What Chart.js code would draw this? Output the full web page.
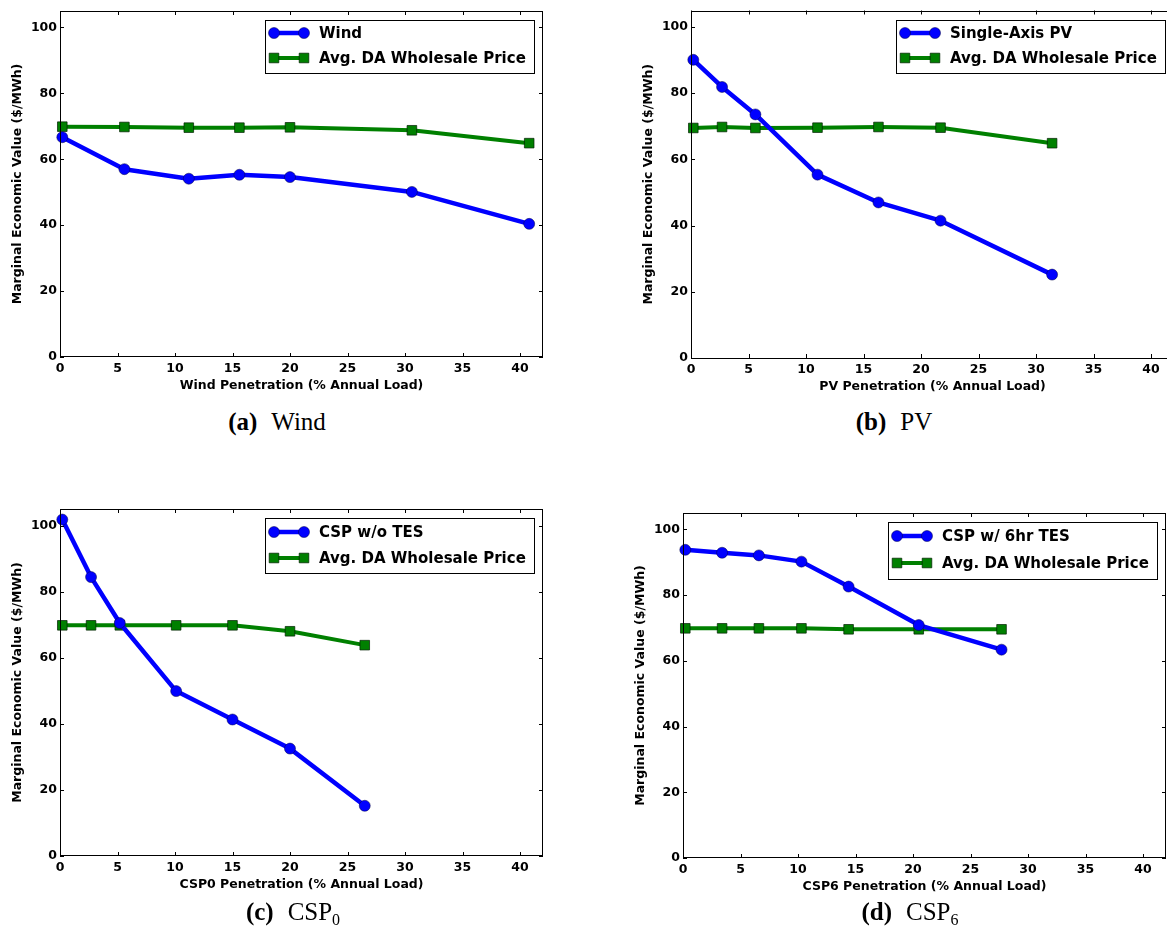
<!DOCTYPE html>
<html>
<head>
<meta charset="utf-8">
<script src="https://cdn.jsdelivr.net/npm/chart.js@4.4.0/dist/chart.umd.min.js"></script>
<style>
body { margin: 0; background: #fff; width: 1167px; height: 937px; overflow: hidden; position: relative; }
canvas { position: absolute; }
.cap { position: absolute; font-family: 'Liberation Serif', serif; font-size: 25px; transform: translate(-50%, -50%); white-space: nowrap; color: #000; }
.cap b { font-weight: bold; margin-right: 14px; }
.cap sub { font-size: 16px; vertical-align: -5px; }
</style>
</head>
<body>
<canvas id="chartA"></canvas>
<canvas id="chartB"></canvas>
<canvas id="chartC"></canvas>
<canvas id="chartD"></canvas>
<div class="cap" style="left:277px;top:422px"><b>(a)</b>Wind</div>
<div class="cap" style="left:894px;top:422px"><b>(b)</b>PV</div>
<div class="cap" style="left:293px;top:913px"><b>(c)</b>CSP<sub>0</sub></div>
<div class="cap" style="left:910px;top:913px"><b>(d)</b>CSP<sub>6</sub></div>
<script>
// penetration (% annual load) and marginal value ($/MWh)
const windPen = [0.2, 5.6, 11.2, 15.6, 20.0, 30.6, 40.8];
const windValue = [66.7, 57.0, 54.1, 55.3, 54.6, 50.1, 40.4];
const windPrice = [69.9, 69.8, 69.6, 69.6, 69.7, 68.8, 64.9];

const pvPen = [0.2, 2.7, 5.6, 11.0, 16.3, 21.7, 31.4];
const pvValue = [90.1, 81.9, 73.6, 55.4, 47.0, 41.5, 25.2];
const pvPrice = [69.5, 69.8, 69.5, 69.6, 69.8, 69.6, 64.9];

const csp0Pen = [0.2, 2.7, 5.2, 10.1, 15.0, 20.0, 26.5];
const csp0Value = [101.8, 84.4, 70.5, 49.9, 41.3, 32.5, 15.2];
const csp0Price = [69.8, 69.8, 69.8, 69.8, 69.8, 68.0, 63.8];

const csp6Pen = [0.2, 3.4, 6.6, 10.3, 14.4, 20.5, 27.7];
const csp6Value = [93.8, 92.9, 92.1, 90.2, 82.6, 70.9, 63.4];
const csp6Price = [69.9, 69.9, 69.9, 69.9, 69.6, 69.6, 69.6];

const priceLabel = 'Avg. DA Wholesale Price';
const yTitle = 'Marginal Economic Value ($/MWh)';

Chart.defaults.font.family = "'DejaVu Sans', sans-serif";
Chart.defaults.color = '#000';

// matplotlib style box with inward ticks on all four sides
const axesFrame = {
    id: 'axesFrame',
    afterDatasetsDraw(chart) {
        const { ctx, chartArea: a, scales: { x, y } } = chart;
        ctx.save();
        ctx.strokeStyle = '#000';
        ctx.lineWidth = 1;
        ctx.beginPath();
        x.ticks.forEach(t => {
            const px = Math.round(x.getPixelForValue(t.value)) + 0.5;
            ctx.moveTo(px, a.bottom); ctx.lineTo(px, a.bottom - 4);
            ctx.moveTo(px, a.top); ctx.lineTo(px, a.top + 4);
        });
        y.ticks.forEach(t => {
            const py = Math.round(y.getPixelForValue(t.value)) + 0.5;
            ctx.moveTo(a.left, py); ctx.lineTo(a.left + 4, py);
            ctx.moveTo(a.right, py); ctx.lineTo(a.right - 4, py);
        });
        ctx.stroke();
        ctx.strokeRect(Math.round(a.left) + 0.5, Math.round(a.top) + 0.5, Math.round(a.width) - 1, Math.round(a.height) - 1);
        ctx.restore();
    }
};

function drawMarker(ctx, d, px, py) {
    ctx.fillStyle = d.pointBackgroundColor;
    ctx.strokeStyle = d.pointBorderColor;
    ctx.lineWidth = d.pointBorderWidth;
    ctx.beginPath();
    if (d.pointStyle === 'rect') {
        const s = d.pointRadius * Math.SQRT1_2;
        ctx.rect(px - s, py - s, 2 * s, 2 * s);
    } else {
        ctx.arc(px, py, d.pointRadius, 0, Math.PI * 2);
    }
    ctx.fill();
    ctx.stroke();
}

// legend box in the upper right corner of the axes
const boxLegend = {
    id: 'boxLegend',
    afterDraw(chart) {
        const { ctx, chartArea: a } = chart;
        const sets = chart.data.datasets;
        const h = chart.options.legendBoxHeight;
        ctx.save();
        ctx.font = "bold 15px 'DejaVu Sans'";
        const textW = Math.max(...sets.map(d => ctx.measureText(d.label).width));
        const w = Math.round(54 + textW + 8);
        const bx = Math.round(a.right - 9 - w), by = Math.round(a.top + 9);
        ctx.fillStyle = '#fff';
        ctx.fillRect(bx, by, w, h);
        ctx.strokeStyle = '#000';
        ctx.lineWidth = 1;
        ctx.strokeRect(bx + 0.5, by + 0.5, w, h);
        sets.forEach((d, i) => {
            const cy = by + Math.round(h * 0.25) + i * Math.round(h * 0.47);
            ctx.strokeStyle = d.borderColor;
            ctx.lineWidth = d.borderWidth;
            ctx.beginPath();
            ctx.moveTo(bx + 9, cy);
            ctx.lineTo(bx + 39, cy);
            ctx.stroke();
            drawMarker(ctx, d, bx + 9, cy);
            drawMarker(ctx, d, bx + 39, cy);
            ctx.fillStyle = '#000';
            ctx.textBaseline = 'middle';
            ctx.textAlign = 'left';
            ctx.fillText(d.label, bx + 54, cy + 1);
        });
        ctx.restore();
    }
};

const panels = [
    { id: 'chartA', left: 0, top: 0, padTop: 11, plotH: 346, legendH: 53, techLabel: 'Wind', xTitle: 'Wind Penetration (% Annual Load)', pen: windPen, value: windValue, price: windPrice },
    { id: 'chartB', left: 631, top: 0, padTop: 8, plotH: 350, legendH: 53, techLabel: 'Single-Axis PV', xTitle: 'PV Penetration (% Annual Load)', pen: pvPen, value: pvValue, price: pvPrice },
    { id: 'chartC', left: 0, top: 498, padTop: 11, plotH: 347, legendH: 55, techLabel: 'CSP w/o TES', xTitle: 'CSP0 Penetration (% Annual Load)', pen: csp0Pen, value: csp0Value, price: csp0Price },
    { id: 'chartD', left: 623, top: 501, padTop: 12, plotH: 345, legendH: 57, techLabel: 'CSP w/ 6hr TES', xTitle: 'CSP6 Penetration (% Annual Load)', pen: csp6Pen, value: csp6Value, price: csp6Price }
];

panels.forEach(p => {
    const canvas = document.getElementById(p.id);
    canvas.width = 60 + 483 + 17;
    canvas.height = p.padTop + p.plotH + 43;
    canvas.style.left = p.left + 'px';
    canvas.style.top = p.top + 'px';

    new Chart(canvas, {
        type: 'line',
        data: {
            datasets: [{
                label: p.techLabel,
                data: p.pen.map((x, i) => ({ x: x, y: p.value[i] })),
                borderColor: '#0000ff',
                borderWidth: 4.5,
                borderJoinStyle: 'round',
                pointStyle: 'circle',
                pointRadius: 5.5,
                pointBackgroundColor: '#0000ff',
                pointBorderColor: '#000040',
                pointBorderWidth: 0.5,
                tension: 0,
                clip: false,
                fill: false
            }, {
                label: priceLabel,
                data: p.pen.map((x, i) => ({ x: x, y: p.price[i] })),
                borderColor: '#008000',
                borderWidth: 4,
                borderJoinStyle: 'round',
                pointStyle: 'rect',
                pointRadius: 6.8,
                pointBackgroundColor: '#008000',
                pointBorderColor: '#002000',
                pointBorderWidth: 0.7,
                tension: 0,
                clip: false,
                fill: false
            }]
        },
        options: {
            responsive: false,
            animation: false,
            devicePixelRatio: 1,
            legendBoxHeight: p.legendH,
            layout: {
                padding: { top: p.padTop, right: 17, left: 0, bottom: 0 }
            },
            scales: {
                x: {
                    type: 'linear',
                    min: 0,
                    max: 42,
                    grid: { display: false, drawTicks: false },
                    border: { display: false },
                    ticks: {
                        stepSize: 5,
                        includeBounds: false,
                        padding: 4,
                        maxRotation: 0,
                        font: { size: 12.5, weight: 'bold' }
                    },
                    title: {
                        display: true,
                        text: p.xTitle,
                        padding: { top: 0, bottom: 7 },
                        font: { size: 12.5, weight: 'bold' }
                    },
                    afterFit: s => { s.height = 43; }
                },
                y: {
                    min: 0,
                    max: 105,
                    grid: { display: false, drawTicks: false },
                    border: { display: false },
                    ticks: {
                        stepSize: 20,
                        includeBounds: false,
                        padding: 3,
                        font: { size: 12.5, weight: 'bold' }
                    },
                    title: {
                        display: true,
                        text: yTitle,
                        padding: { top: 10.5, bottom: 0 },
                        font: { size: 12.5, weight: 'bold' }
                    },
                    afterFit: s => { s.width = 60; }
                }
            },
            plugins: {
                legend: { display: false },
                tooltip: { enabled: false }
            }
        },
        plugins: [axesFrame, boxLegend]
    });
});
</script>
</body>
</html>
